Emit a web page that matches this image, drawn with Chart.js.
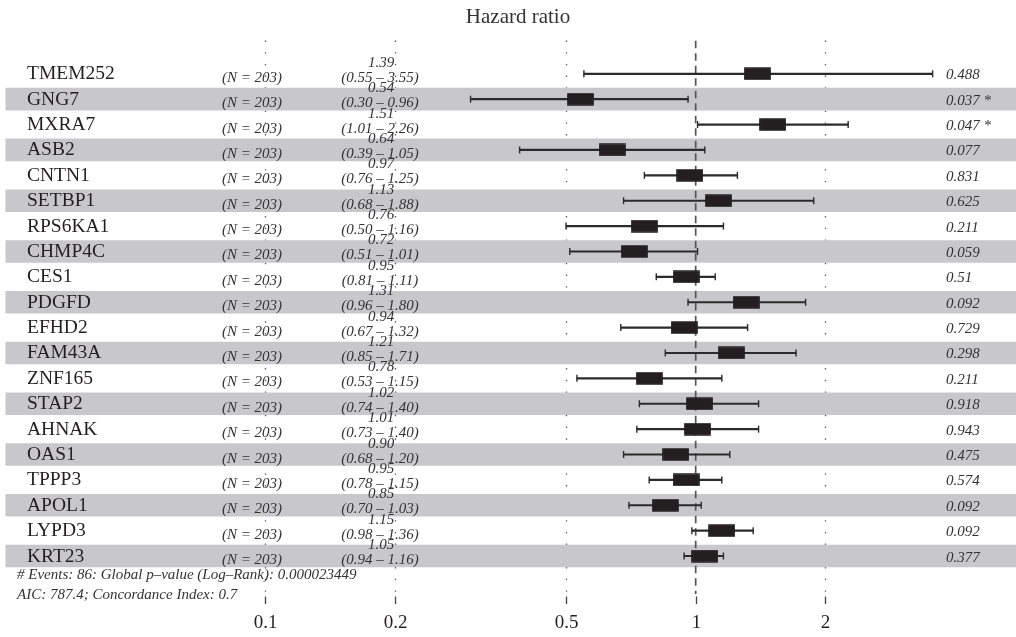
<!DOCTYPE html>
<html lang="en">
<head>
  <meta charset="UTF-8" />
  <title>Hazard ratio</title>
  <script src="https://cdn.jsdelivr.net/npm/chart.js@4/dist/chart.umd.min.js"></script>
  <style>
    html, body { margin: 0; padding: 0; background: #fff; }
    #wrap { width: 1016px; height: 637px; position: relative; }
  </style>
</head>
<body>
  <div id="wrap"><canvas id="forest"></canvas></div>

  <script>
    // rows, top to bottom
    const genes = ["TMEM252", "GNG7", "MXRA7", "ASB2", "CNTN1", "SETBP1", "RPS6KA1", "CHMP4C", "CES1", "PDGFD",
                   "EFHD2", "FAM43A", "ZNF165", "STAP2", "AHNAK", "OAS1", "TPPP3", "APOL1", "LYPD3", "KRT23"];
    const sampleN = [203, 203, 203, 203, 203, 203, 203, 203, 203, 203,
                     203, 203, 203, 203, 203, 203, 203, 203, 203, 203];
    const hr     = [1.39, 0.54, 1.51, 0.64, 0.97, 1.13, 0.76, 0.72, 0.95, 1.31,
                    0.94, 1.21, 0.78, 1.02, 1.01, 0.90, 0.95, 0.85, 1.15, 1.05];
    const ciLow  = [0.55, 0.30, 1.01, 0.39, 0.76, 0.68, 0.50, 0.51, 0.81, 0.96,
                    0.67, 0.85, 0.53, 0.74, 0.73, 0.68, 0.78, 0.70, 0.98, 0.94];
    const ciHigh = [3.55, 0.96, 2.26, 1.05, 1.25, 1.88, 1.16, 1.01, 1.11, 1.80,
                    1.32, 1.71, 1.15, 1.40, 1.40, 1.20, 1.15, 1.03, 1.36, 1.16];
    const pValues = ["0.488", "0.037 *", "0.047 *", "0.077", "0.831", "0.625", "0.211", "0.059", "0.51", "0.092",
                     "0.729", "0.298", "0.211", "0.918", "0.943", "0.475", "0.574", "0.092", "0.092", "0.377"];
    const xTicks = [0.1, 0.2, 0.5, 1, 2];
    const footnotes = [
      "# Events: 86: Global p\u2013value (Log\u2013Rank): 0.000023449",
      "AIC: 787.4; Concordance Index: 0.7"
    ];

    const fmt = v => v.toFixed(2);
    const ink = "#231f20";
    const serif = "'Liberation Serif', 'DejaVu Serif', serif";

    // black box marker for the hazard ratio
    const boxImg = document.createElement("canvas");
    boxImg.width = 27;
    boxImg.height = 13;
    const bctx = boxImg.getContext("2d");
    bctx.fillStyle = ink;
    bctx.fillRect(0.15, 0.25, 26.7, 12.5);

    // gray bands on every second row
    const bandData = [];
    genes.forEach((g, i) => {
      if (i % 2 === 1) bandData.push({ x: [0.025, 8], y: i });
    });

    const forestText = {
      id: "forestText",
      beforeDatasetsDraw(chart) {
        const ctx = chart.ctx;
        const xs = chart.scales.x;
        ctx.save();
        ctx.strokeStyle = "#555";
        ctx.lineWidth = 1.3;
        ctx.setLineDash([1.4, 10.3]);
        xTicks.forEach(t => {
          if (t === 1) return;
          const px = Math.round(xs.getPixelForValue(t)) + 0.5;
          ctx.beginPath();
          ctx.moveTo(px, 40.5);
          ctx.lineTo(px, 595);
          ctx.stroke();
        });
        ctx.restore();
      },
      afterDatasetsDraw(chart) {
        const ctx = chart.ctx;
        const xs = chart.scales.x;
        const ys = chart.scales.y;
        ctx.save();

        // title
        ctx.fillStyle = "#333";
        ctx.font = "21px " + serif;
        ctx.textAlign = "center";
        ctx.textBaseline = "alphabetic";
        ctx.fillText("Hazard ratio", 518, 23);

        genes.forEach((g, i) => {
          const cy = ys.getPixelForValue(i);

          ctx.fillStyle = ink;
          ctx.font = "19.5px " + serif;
          ctx.textAlign = "left";
          ctx.fillText(g, 27, cy + 5.5);

          ctx.fillStyle = "#333";
          ctx.font = "italic 15px " + serif;
          ctx.textAlign = "center";
          ctx.fillText("(N = " + sampleN[i] + ")", 252, cy + 8);

          ctx.fillText(fmt(hr[i]), 381, cy - 7);
          ctx.fillText("(" + fmt(ciLow[i]) + " \u2013 " + fmt(ciHigh[i]) + ")", 380, cy + 8);

          ctx.textAlign = "left";
          ctx.fillText(pValues[i], 946, cy + 5.5);
        });

        // footnote
        ctx.fillStyle = "#333";
        ctx.font = "italic 15px " + serif;
        ctx.textAlign = "left";
        ctx.fillText(footnotes[0], 17, 579);
        ctx.fillText(footnotes[1], 17, 598.5);

        // axis ticks and labels
        ctx.strokeStyle = "#444";
        ctx.lineWidth = 1.3;
        ctx.fillStyle = ink;
        ctx.font = "19px " + serif;
        ctx.textAlign = "center";
        xTicks.forEach(t => {
          const px = Math.round(xs.getPixelForValue(t)) + 0.5;
          ctx.beginPath();
          ctx.moveTo(px, 596.5);
          ctx.lineTo(px, 604);
          ctx.stroke();
          ctx.fillText(String(t), px, 628);
        });
        ctx.restore();
      }
    };

    const ctx = document.getElementById("forest").getContext("2d");
    new Chart(ctx, {
      type: "bar",
      data: {
        datasets: [
          {
            type: "scatter",
            data: hr.map((v, i) => ({ x: v, y: i })),
            pointStyle: boxImg,
            pointRadius: 6,
            order: 1
          },
          {
            type: "scatter",
            data: ciLow.map((v, i) => ({ x: v, y: i })).concat(ciHigh.map((v, i) => ({ x: v, y: i }))),
            pointStyle: "line",
            rotation: 90,
            pointRadius: 3.5,
            borderWidth: 1.4,
            borderColor: "#2b2b2b",
            order: 2
          },
          {
            type: "bar",
            indexAxis: "y",
            grouped: false,
            data: genes.map((g, i) => ({ x: [ciLow[i], ciHigh[i]], y: i })),
            barThickness: 1.5,
            backgroundColor: "#2b2b2b",
            borderWidth: 0,
            order: 3
          },
          {
            type: "line",
            data: [{ x: 1, y: -1.3 }, { x: 1, y: 20.5 }],
            borderColor: "#555",
            borderWidth: 1.7,
            borderDash: [7.5, 5],
            pointRadius: 0,
            fill: false,
            order: 4
          },
          {
            type: "bar",
            indexAxis: "y",
            grouped: false,
            data: bandData,
            barThickness: 22,
            backgroundColor: "#c8c8ca",
            borderWidth: 0,
            order: 5
          }
        ]
      },
      options: {
        responsive: true,
        maintainAspectRatio: false,
        animation: false,
        events: [],
        layout: { padding: 0, autoPadding: false },
        plugins: {
          legend: { display: false },
          tooltip: { enabled: false }
        },
        scales: {
          x: { type: "logarithmic", min: 0.02423, max: 5.545, display: false, offset: false },
          y: { type: "linear", min: -2.908, max: 22.19, reverse: true, display: false, offset: false }
        }
      },
      plugins: [forestText]
    });
  </script>
</body>
</html>
